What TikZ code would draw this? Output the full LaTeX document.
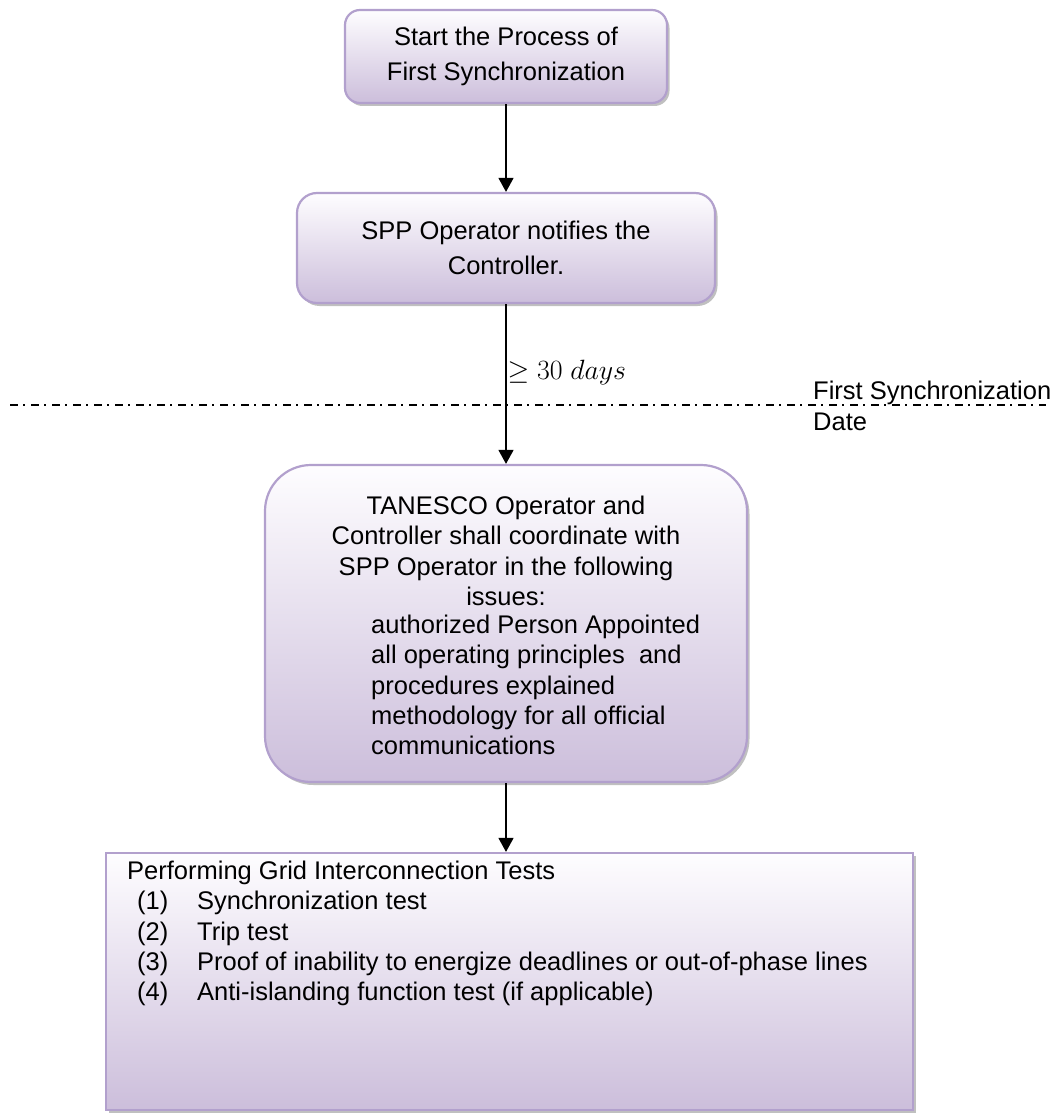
\documentclass[tikz,border=0pt]{standalone}
\usepackage{fontspec}
\setmainfont{Liberation Sans}
\usetikzlibrary{arrows.meta,shadows}
\definecolor{boxtop}{RGB}{254,253,255}
\definecolor{boxbot}{RGB}{204,190,219}
\definecolor{boxedge}{RGB}{178,160,205}
\begin{document}
\begin{tikzpicture}[x=1pt,y=-1pt,
  flowbox/.style={draw=boxedge, line width=2.2pt, top color=boxtop, bottom color=boxbot,
    drop shadow={shadow xshift=2.5pt, shadow yshift=-3pt, fill=black!55, opacity=0.45},
    inner sep=0pt, align=center},
  txt/.style={font=\fontsize{25.5}{30.3}\selectfont, inner sep=0pt},
  flow/.style={line width=1.3pt, -{Triangle[width=15pt,length=14pt]}}]
\useasboundingbox (0,0) rectangle (1063,1113);

% process steps
\node[flowbox, rounded corners=15pt, minimum width=322pt, minimum height=93pt,
      font=\fontsize{25.5}{35}\selectfont] (start) at (506,56.5)
      {Start the Process of\\First Synchronization};
\node[flowbox, rounded corners=20pt, minimum width=418pt, minimum height=110pt,
      font=\fontsize{25.5}{35}\selectfont] (notify) at (506,248)
      {SPP Operator notifies the\\Controller.};
\node[flowbox, rounded corners=46pt, minimum width=482pt, minimum height=317pt] (coord) at (506,623.5) {};
\node[flowbox, minimum width=807pt, minimum height=257pt] (tests) at (509.5,981.5) {};

% text of the coordination step
\node[txt, align=center] (coordhead) at (506,551)
  {TANESCO Operator and\\Controller shall coordinate with\\SPP Operator in the following\\issues:};
\node[txt, align=left, anchor=west] (coorditems) at (371,685)
  {authorized Person Appointed\\all operating principles\ \ and\\procedures explained\\methodology for all official\\communications};

% text of the test step
\node[txt, align=left, anchor=north west] (testlist) at (127,861)
  {Performing Grid Interconnection Tests\\
   \hspace*{10pt}\makebox[60pt][l]{(1)}Synchronization test\\
   \hspace*{10pt}\makebox[60pt][l]{(2)}Trip test\\
   \hspace*{10pt}\makebox[60pt][l]{(3)}Proof of inability to energize deadlines or out-of-phase lines\\
   \hspace*{10pt}\makebox[60pt][l]{(4)}Anti-islanding function test (if applicable)};

% first synchronization date marker
\coordinate (dateL) at (10,405);
\coordinate (dateR) at (1046,405);
\draw[line width=1.6pt, dash pattern=on 8pt off 5pt on 2pt off 6pt] (dateL) -- (dateR);
\node[txt, align=left, anchor=west, font=\fontsize{25.5}{31}\selectfont] (datelabel) at (813,406)
  {First Synchronization\\Date};

% connectors
\draw[flow] (start.south) -- (notify.north);
\draw[flow] (notify.south) -- node[pos=0.43, anchor=west, inner sep=1pt, font=\fontsize{24.88}{30}\selectfont] (gap) {\scalebox{1.12}{$\geq 30\ days$}} (coord.north);
\draw[flow] (coord.south) -- (coord.south |- tests.north);
\end{tikzpicture}
\end{document}
